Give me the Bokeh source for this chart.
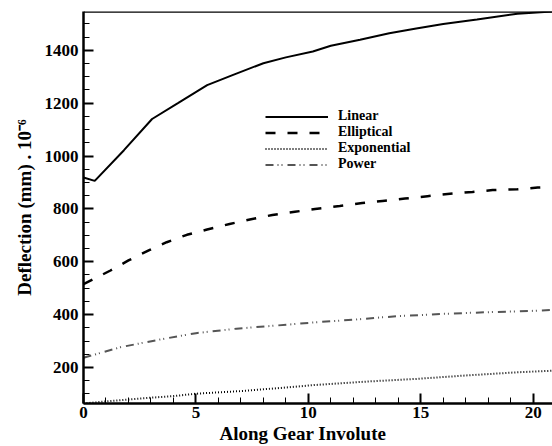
from bokeh.plotting import figure
from bokeh.models import FixedTicker, Legend, LegendItem, Span, Range1d, Title
from bokeh.embed import file_html
from bokeh.resources import INLINE

# ---- data ----
x_linear = [0, 0.5, 1.8, 3.05, 4.2, 5.5, 6.6, 8.0, 9.0, 10.2, 11.0, 12.3, 13.6, 14.8, 16.0, 17.5, 19.3, 20.86]
y_linear = [919, 906, 1022, 1140, 1200, 1268, 1305, 1351, 1373, 1395, 1417, 1440, 1464, 1482, 1499, 1516, 1538, 1547]

x_elliptical = [0, 1.2, 2.0, 2.9, 3.7, 4.6, 5.5, 6.5, 7.4, 8.4, 9.4, 10.3, 11.4, 12.4, 13.3,
                14.3, 15.3, 16.3, 17.3, 18.2, 19.3, 20.2, 20.86]
y_elliptical = [515, 567, 605, 643, 674, 702, 722, 743, 760, 777, 789, 800, 811, 822, 830,
                839, 848, 857, 864, 871, 874, 881, 883]

x_exponential = [0, 1.0, 2.0, 3.0, 4.0, 5.0, 7.0, 8.8, 10.3, 12.6, 14.8, 17.0, 19.3, 20.86]
y_exponential = [64, 72, 79, 86, 92, 101, 111, 123, 134, 147, 157, 170, 182, 188]

x_power = [0, 1.65, 3.4, 5.0, 6.8, 8.6, 10.3, 12.0, 13.9, 16.0, 17.9, 19.9, 20.86]
y_power = [237, 277, 306, 330, 347, 359, 371, 381, 394, 403, 409, 414, 418]

x_major = [0, 5, 10, 15, 20]
x_minor = list(range(0, 22))
y_major = [200, 400, 600, 800, 1000, 1200, 1400]
y_minor = list(range(100, 1550, 50))

series_names = ["Linear", "Elliptical", "Exponential", "Power"]
x_title = "Along Gear Involute"
y_title = "Deflection (mm) . 10\u207b\u2076"

FONT = "Liberation Serif"

p = figure(width=552, height=446, output_backend="svg", toolbar_location=None,
           x_range=Range1d(0, 20.86), y_range=Range1d(64, 1546.5),
           min_border_left=83, min_border_right=0, min_border_top=11, min_border_bottom=43)
p.outline_line_color = None
p.grid.visible = False
p.background_fill_color = "white"
p.border_fill_color = "white"

for ax, maj, mnr in ((p.xaxis[0], x_major, x_minor), (p.yaxis[0], y_major, y_minor)):
    ax.ticker = FixedTicker(ticks=maj, minor_ticks=mnr)
    ax.axis_line_width = 2.5
    ax.axis_line_color = "black"
    ax.major_tick_in = 10
    ax.major_tick_out = 0
    ax.minor_tick_in = 6
    ax.minor_tick_out = 0
    ax.major_tick_line_width = 2
    ax.minor_tick_line_width = 1
    ax.major_label_text_font = FONT
    ax.major_label_text_font_style = "bold"
    ax.major_label_text_font_size = "17px"
    ax.major_label_text_color = "black"
    ax.major_label_standoff = 5
p.xaxis[0].major_label_standoff = 3

p.yaxis[0].axis_label = y_title
p.yaxis[0].axis_label_text_font = FONT
p.yaxis[0].axis_label_text_font_style = "bold"
p.yaxis[0].axis_label_text_font_size = "19px"
p.yaxis[0].axis_label_text_color = "black"
p.yaxis[0].axis_label_standoff = 7

# x-axis title placed below the tick labels, offset like the reference
p.add_layout(Title(text=x_title, align="left", offset=136, standoff=0,
                   text_font=FONT, text_font_style="bold", text_font_size="19px",
                   text_color="black"), "below")

# top border
p.add_layout(Span(location=1546.5, dimension="width", line_color="black", line_width=2.5))

r_lin = p.line(x_linear, y_linear, line_color="black", line_width=2)
r_ell = p.line(x_elliptical, y_elliptical, line_color="black", line_width=2.5, line_dash="10 12")
r_exp = p.line(x_exponential, y_exponential, line_color="black", line_width=2, line_dash="1 2")
r_pow = p.line(x_power, y_power, line_color="#555555", line_width=2, line_dash="8 4 1 3 1 5")

legend = Legend(items=[LegendItem(label=n, renderers=[r]) for n, r in
                       zip(series_names, [r_lin, r_ell, r_exp, r_pow])],
                location=(182, 231), orientation="vertical",
                glyph_width=63, glyph_height=15, label_height=15, spacing=0,
                padding=0, margin=0, label_standoff=10,
                border_line_color=None, background_fill_alpha=0,
                label_text_font=FONT, label_text_font_style="bold",
                label_text_font_size="14px", label_text_color="black")
p.add_layout(legend, "center")

open("out.html", "w").write(file_html(p, INLINE))
